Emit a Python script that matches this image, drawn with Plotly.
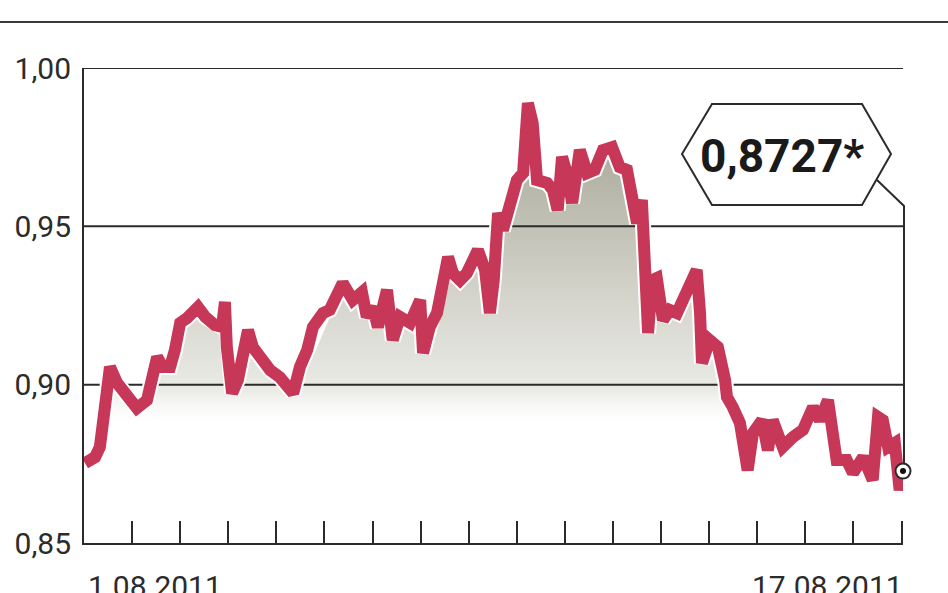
import plotly.graph_objects as go

# ---------------- data ----------------
# time in days since 1.08.2011 00:00
days = [0.02, 0.23, 0.33, 0.40, 0.48, 0.54, 0.69, 0.89, 1.10, 1.31, 1.41, 1.52, 1.64, 1.79, 1.89,
        2.00, 2.14, 2.37, 2.52, 2.72, 2.87, 2.93, 2.97, 3.08, 3.20, 3.31, 3.41, 3.51, 3.70, 3.87,
        4.07, 4.22, 4.35, 4.49, 4.64, 4.76, 4.97, 5.11, 5.26, 5.38, 5.59, 5.78, 5.88, 6.01, 6.11,
        6.30, 6.42, 6.57, 6.78, 6.99, 7.05, 7.19, 7.34, 7.46, 7.57, 7.67, 7.82, 7.96, 8.19, 8.34,
        8.44, 8.52, 8.61, 8.71, 8.86, 9.00, 9.13, 9.23, 9.33, 9.42, 9.63, 9.75, 9.85, 9.94, 10.06,
        10.15, 10.31, 10.46, 10.62, 10.79, 10.98, 11.14, 11.29, 11.39, 11.50, 11.60, 11.66, 11.73,
        11.81, 11.91, 12.04, 12.18, 12.33, 12.54, 12.74, 12.81, 12.85, 13.01, 13.18, 13.33, 13.37,
        13.49, 13.64, 13.80, 13.91, 14.10, 14.22, 14.32, 14.53, 14.74, 14.95, 15.16, 15.30, 15.47,
        15.57, 15.65, 15.86, 15.99, 16.20, 16.40, 16.47, 16.51, 16.61, 16.72, 16.86, 16.96, 17.03]
rate = [0.8752, 0.8771, 0.8803, 0.8888, 0.8983, 0.9056, 0.9005, 0.8961, 0.8926, 0.8951, 0.9014,
        0.9087, 0.9056, 0.9056, 0.9109, 0.9195, 0.9210, 0.9245, 0.9214, 0.9188, 0.9182, 0.9261,
        0.9119, 0.8973, 0.9015, 0.9087, 0.9172, 0.9119, 0.9078, 0.9046, 0.9024, 0.8992, 0.8973,
        0.9056, 0.9109, 0.9182, 0.9226, 0.9236, 0.9289, 0.9321, 0.9267, 0.9292, 0.9214, 0.9245,
        0.9182, 0.9299, 0.9141, 0.9214, 0.9195, 0.9267, 0.9100, 0.9182, 0.9226, 0.9299, 0.9403,
        0.9352, 0.9330, 0.9352, 0.9425, 0.9362, 0.9226, 0.9330, 0.9542, 0.9488, 0.9583, 0.9646,
        0.9668, 0.9889, 0.9826, 0.9646, 0.9637, 0.9615, 0.9551, 0.9719, 0.9656, 0.9574, 0.9741,
        0.9668, 0.9678, 0.9741, 0.9750, 0.9687, 0.9678, 0.9605, 0.9510, 0.9583, 0.9394, 0.9163,
        0.9330, 0.9337, 0.9204, 0.9236, 0.9226, 0.9289, 0.9362, 0.9226, 0.9068, 0.9141, 0.9119,
        0.9015, 0.8961, 0.8929, 0.8879, 0.8730, 0.8847, 0.8888, 0.8793, 0.8888, 0.8803, 0.8834,
        0.8857, 0.8929, 0.8888, 0.8951, 0.8866, 0.8762, 0.8762, 0.8721, 0.8771, 0.8699, 0.8825,
        0.8898, 0.8888, 0.8803, 0.8816, 0.8667, 0.8727]

y_ticks = [0.85, 0.90, 0.95, 1.00]
y_tick_labels = ["0,85", "0,90", "0,95", "1,00"]
x_ticks = list(range(1, 18))
x_range = [0, 17.03]
grid_levels = [0.90, 0.95, 1.00]
start_label = "1.08.2011"
end_label = "17.08.2011"
last_label = "0,8727*"

# ---------------- styling ----------------
W, H = 948, 593
L, R, T, B = 84, 903, 68, 543
DARK = "#2b2b2b"
RED = "#c73858"
FONT = "Roboto"


def pxx(p):
    return (p - L) / (R - L)


def pxy(p):
    return (B - p) / (B - T)


fig = go.Figure()

# gradient area under the curve
fig.add_trace(go.Scatter(
    x=days, y=rate, mode="lines", line=dict(width=0, color="rgba(0,0,0,0)"),
    fill="tozeroy",
    fillgradient=dict(type="vertical",
                      colorscale=[[0, "rgba(255,255,255,0)"], [0.12, "#ebebe7"],
                                  [0.45, "#d2d2c9"], [1, "#a3a393"]],
                      start=0.886, stop=0.985),
    hoverinfo="skip", showlegend=False))

# horizontal grid lines (drawn above the fill, below the curve)
for g in grid_levels:
    fig.add_trace(go.Scatter(x=x_range, y=[g, g], mode="lines",
                             line=dict(color=DARK, width=2), cliponaxis=False,
                             hoverinfo="skip", showlegend=False))

# white halo + red line
fig.add_trace(go.Scatter(x=days, y=rate, mode="lines",
                         line=dict(color="white", width=16),
                         hoverinfo="skip", showlegend=False))
fig.add_trace(go.Scatter(x=days, y=rate, mode="lines",
                         line=dict(color=RED, width=12),
                         hoverinfo="skip", showlegend=False))

# end marker
fig.add_trace(go.Scatter(x=[days[-1]], y=[rate[-1]], mode="markers",
                         marker=dict(size=15, color="white", line=dict(color=DARK, width=2)),
                         cliponaxis=False, hoverinfo="skip", showlegend=False))
fig.add_trace(go.Scatter(x=[days[-1]], y=[rate[-1]], mode="markers",
                         marker=dict(size=6, color="#111"),
                         cliponaxis=False, hoverinfo="skip", showlegend=False))

# decorations: top rule, value box and leader line
hexagon = [(682, 154), (712, 104), (862, 104), (891, 154), (862, 205), (712, 205)]
hex_path = "M " + " L ".join(f"{pxx(a):.5f},{pxy(b):.5f}" for a, b in hexagon) + " Z"
leader = [(877, 180), (904, 206), (904, 463)]
leader_path = "M " + " L ".join(f"{pxx(a):.5f},{pxy(b):.5f}" for a, b in leader)

shapes = [
    dict(type="line", xref="paper", yref="paper", x0=pxx(0), x1=pxx(W), y0=pxy(22), y1=pxy(22),
         line=dict(color="#3a3a3a", width=2), layer="above"),
    dict(type="path", xref="paper", yref="paper", path=hex_path,
         line=dict(color=DARK, width=2), fillcolor="white", layer="above"),
    dict(type="path", xref="paper", yref="paper", path=leader_path,
         line=dict(color=DARK, width=2), layer="below"),
]

annotations = [
    dict(text=f"<b>{last_label}</b>", xref="paper", yref="paper", x=pxx(782), y=pxy(156),
         xanchor="center", yanchor="middle", showarrow=False,
         font=dict(family=FONT, size=46, color="#1a1a1a")),
    dict(text=start_label, xref="paper", yref="paper", x=pxx(155), y=pxy(567),
         xanchor="center", yanchor="top", showarrow=False,
         font=dict(family=FONT, size=30, color=DARK)),
    dict(text=end_label, xref="paper", yref="paper", x=pxx(905), y=pxy(567),
         xanchor="right", yanchor="top", showarrow=False,
         font=dict(family=FONT, size=30, color=DARK)),
]

fig.update_layout(
    width=W, height=H,
    margin=dict(l=L, r=W - R, t=T, b=H - B, pad=0, autoexpand=False),
    paper_bgcolor="white", plot_bgcolor="white",
    showlegend=False,
    shapes=shapes, annotations=annotations,
    xaxis=dict(range=x_range, showgrid=False, zeroline=False, automargin=False,
               showline=True, linecolor=DARK, linewidth=2,
               ticks="inside", tickvals=x_ticks, ticklen=22, tickwidth=2, tickcolor=DARK,
               showticklabels=False, fixedrange=True),
    yaxis=dict(range=[0.85, 1.00], showgrid=False, zeroline=False, automargin=False,
               showline=True, linecolor=DARK, linewidth=2,
               tickvals=y_ticks, ticktext=y_tick_labels, ticks="",
               ticklabelstandoff=5,
               tickfont=dict(family=FONT, size=30, color=DARK), fixedrange=True),
)

fig.write_html("out.html", config={"displayModeBar": False},
               post_script="document.body.style.margin='0px';")
